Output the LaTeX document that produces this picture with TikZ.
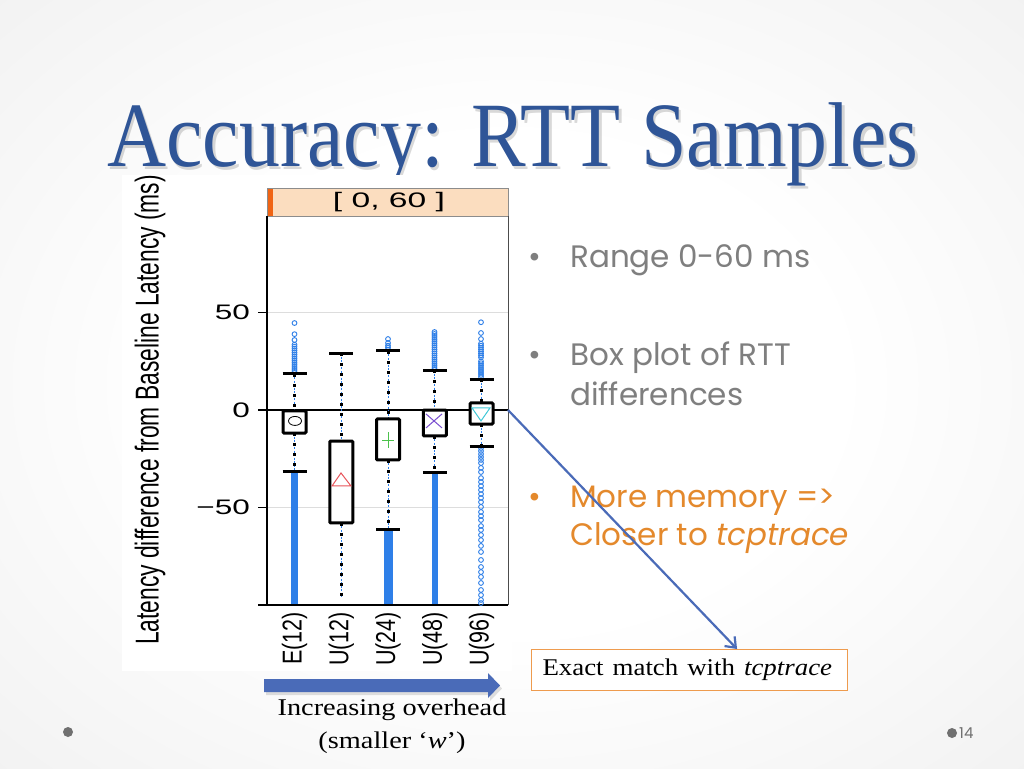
\documentclass[tikz,border=0pt]{standalone}
\usepackage{fontspec}
\usepackage{tikz}
\usetikzlibrary{arrows.meta, positioning, calc}
\setmainfont{Liberation Serif}
\newfontfamily\plotfont{Liberation Sans}
\newfontfamily\bodyfont{Poppins}
\definecolor{TitleBlue}{HTML}{2F5597}
\definecolor{BodyGray}{HTML}{7F7F7F}
\definecolor{MemOrange}{HTML}{E4892C}
\definecolor{PointBlue}{HTML}{2E7FE8}
\definecolor{ArrowBlue}{HTML}{4A6BB8}
\definecolor{HeadPeach}{HTML}{FBDDBF}
\definecolor{HeadOrange}{HTML}{F06414}
\definecolor{BoxOrange}{HTML}{EE9B4E}
\definecolor{DotGray}{HTML}{707070}
\definecolor{GridGray}{HTML}{DDDDDD}
\definecolor{BgMid}{HTML}{EEEEEE}
\definecolor{BgEdge}{HTML}{D4D4D4}
\definecolor{MarkRed}{HTML}{E8545A}
\definecolor{MarkGreen}{HTML}{4CC24C}
\definecolor{MarkPurple}{HTML}{7A4FD0}
\definecolor{MarkCyan}{HTML}{40C8D8}
\newcommand{\xs}[2]{\scalebox{#1}[1]{#2}}
\newcommand{\ys}[2]{\scalebox{1}[#1]{#2}}
\pgfdeclareradialshading{slidebg}{\pgfpoint{0bp}{0bp}}{color(0bp)=(white); color(16bp)=(white); color(42bp)=(BgMid); color(72bp)=(BgEdge)}
\tikzset{
  bxp/.style={draw=black, line width=3pt, fill=white, rounded corners=1pt},
  whisk/.style={PointBlue, line width=0.8pt, dash pattern=on 2pt off 1.5pt},
  whiskdot/.style={black, line width=3pt, dash pattern=on 3pt off 7pt},
  wcap/.style={black, line width=3pt},
  outl/.style={draw=PointBlue, line width=0.9pt},
  ticklab/.style={font=\plotfont\fontsize{21}{21}\selectfont, anchor=east, inner sep=0pt},
  catlab/.style={font=\plotfont\fontsize{21.5}{21.5}\selectfont, rotate=90, anchor=east, inner sep=0pt},
  bultext/.style={font=\bodyfont\fontsize{31}{31}\selectfont, anchor=base west, inner sep=0pt},
}

\begin{document}
\begin{tikzpicture}[x=1pt, y=-1pt, declare function={ms(\v)=410-1.95*(\v);}]
\useasboundingbox (0,0) rectangle (1024,768);
\shade[shading=slidebg] (0,0) rectangle (1024,768);

% title
\node[anchor=base, text=black, opacity=0.15, font=\fontsize{92}{92}\selectfont] at (515.5,169) {\xs{0.89}{Accuracy: RTT Samples}};
\node[anchor=base, text=TitleBlue, font=\fontsize{92}{92}\selectfont] (title) at (513,166) {\xs{0.89}{Accuracy: RTT Samples}};

% plot
\fill[white] (122,175) rectangle (512,671);
\fill[HeadPeach] (267,188) rectangle (508,216);
\fill[HeadOrange] (267,188) rectangle (273,216);
\draw[black!45, line width=0.6pt] (267,188) rectangle (508,216);
\node[font=\plotfont\fontsize{21}{21}\selectfont, inner sep=0pt] (range) at (389,202) {\xs{1.6}{[ 0, 60 ]}};
\foreach \v in {50,-50}
  \draw[GridGray, line width=0.8pt] (267,{ms(\v)}) -- (508,{ms(\v)});
\draw[black!70, line width=0.8pt] (508,216) -- (508,605);
\draw[line width=1.2pt] (267,216) -- (267,605) (258,605) -- (508,605);
\coordinate (zero) at (508,{ms(0)});
\draw[line width=1.5pt] (258,{ms(0)}) -- (zero);
\foreach \v/\t in {50/50,0/0,-50/−50} {
  \draw[line width=1.2pt] (258,{ms(\v)}) -- (267,{ms(\v)});
  \node[ticklab] at (250,{ms(\v)}) {\xs{1.5}{\t}};
}
\node[rotate=90, font=\plotfont\fontsize{22.8}{22.8}\selectfont, inner sep=0pt] (ylab) at (150,410)
  {\ys{1.45}{Latency difference from Baseline Latency (ms)}};

% outliers
\foreach \v in {19.5,20.5,...,33.5,35.9,38.9,44.6} \draw[outl] (294.5,{ms(\v)}) circle (2.4pt);
\foreach \v in {31,32,33,34.4,36.4} \draw[outl] (388,{ms(\v)}) circle (2.4pt);
\foreach \v in {21,22,...,40} \draw[outl] (434.5,{ms(\v)}) circle (2.4pt);
\foreach \v in {17,18,...,25,27,28,...,34,36.4,39.5,45} \draw[outl] (481,{ms(\v)}) circle (2.4pt);
\foreach \v in {-19.5,-21,-22.6,-24.1,-25.6,-27.2,-29.7,-31.8,-34.9,-36.9,-39,-41,-43.1,-45.1,-47.2,-49.7,
    -52.3,-54.4,-56.4,-59.5,-61.5,-64.1,-66.7,-69.7,-72.8,-76.9,-80.5,-83.1,-85.6,-88.7,-92.3,-94.9,-97.4,-99}
  \draw[outl] (481,{ms(\v)}) circle (2.4pt);
\fill[PointBlue] (291,{ms(-31.3)}) rectangle (298,604);
\fill[PointBlue] (384,{ms(-61.5)}) rectangle (393,604);
\fill[PointBlue] (432,{ms(-31.8)}) rectangle (438,604);

% boxes and whiskers
\foreach \i/\lab/\qa/\qb/\wa/\wb [evaluate=\i as \cx using 294.5+46.75*\i] in
  {0/E(12)/-0.5/-11.8/18.5/-31.3, 1/U(12)/-15.9/-57.9/29.2/-96, 2/U(24)/-4.6/-25.6/30.3/-61.5,
   3/U(48)/0/-13.3/20.5/-31.8, 4/U(96)/3.6/-7.2/15.9/-18.5} {
  \draw[whisk] (\cx,{ms(\wa)}) -- (\cx,{ms(\qa)}) (\cx,{ms(\qb)}) -- (\cx,{ms(\wb)});
  \draw[whiskdot] (\cx,{ms(\wa)}) -- (\cx,{ms(\qa)}) (\cx,{ms(\qb)}) -- (\cx,{ms(\wb)});
  \draw[bxp] (\cx-11.5,{ms(\qa)}) rectangle (\cx+11.5,{ms(\qb)});
  \node[catlab] (cat\i) at (\cx,612) {\ys{1.27}{\lab}};
}
\foreach \i/\v [evaluate=\i as \cx using 294.5+46.75*\i] in
  {0/18.5,0/-31.3,1/29.2,2/30.3,2/-61.5,3/20.5,3/-31.8,4/15.9,4/-18.5}
  \draw[wcap] (\cx-12,{ms(\v)}) -- (\cx+12,{ms(\v)});

% mean markers
\draw[black, line width=0.8pt] (295,{ms(-5.6)}) ellipse [x radius=6.5pt, y radius=4.5pt];
\draw[MarkRed, line width=1pt] (341,{ms(-32.3)}) -- ++(10,13) -- ++(-19,0) -- cycle;
\draw[MarkGreen, line width=1pt] (388,{ms(-15.4)}) +(-6,0) -- +(6,0) +(0,-8) -- +(0,8);
\draw[MarkPurple, line width=1pt] (434,{ms(-5.6)}) +(-8,-7) -- +(8,7) +(-8,7) -- +(8,-7);
\draw[MarkCyan, line width=1pt] (481,{ms(-1.5)}) +(-9,-5) -- +(9,-5) -- +(0,8) -- cycle;

% overhead arrow
\fill[black, opacity=0.12] (266,682) -- (490,682) -- (490,676) -- (502,688.5) -- (490,701) -- (490,695) -- (266,695) -- cycle;
\fill[ArrowBlue] (264,679) -- (488,679) -- (488,673) -- (500,685.5) -- (488,698) -- (488,692) -- (264,692) -- cycle;
\node[anchor=base, font=\fontsize{24}{24}\selectfont, inner sep=0pt] (ovh) at (392,715) {\xs{1.18}{Increasing overhead}};
\node[anchor=base, font=\fontsize{24}{24}\selectfont, inner sep=0pt] (smw) at (392,748) {\xs{1.18}{(smaller ‘\textit{w}’)}};

% bullets
\node[bultext, text=BodyGray, anchor=base] at (535,267) {•};
\node[bultext, text=BodyGray] (b1) at (570,267) {Range 0-60 ms};
\node[bultext, text=BodyGray, anchor=base] at (535,365) {•};
\node[bultext, text=BodyGray] (b2) at (570,365) {Box plot of RTT};
\node[bultext, text=BodyGray] (b2b) at (570,405) {differences};
\node[bultext, text=MemOrange, anchor=base] at (535,507) {•};
\node[bultext, text=MemOrange] (b3) at (570,507) {More memory =>};
\node[bultext, text=MemOrange] (b3b) at (570,545) {Closer to \textit{tcptrace}};

% callout
\node[draw=BoxOrange, fill=white, line width=1pt, anchor=north west, text width=294pt, inner xsep=11pt,
      minimum height=41pt, align=left, font=\fontsize{24}{28}\selectfont] (exact) at (531,649)
  {\xs{1.12}{Exact match with \textit{tcptrace}}};
\draw[ArrowBlue, line width=2.2pt, -{Straight Barb[length=9pt, width=14pt]}]
  (zero) -- ($(exact.north west)!0.65!(exact.north east)$);

% footer
\fill[DotGray] (68,732) circle (5pt);
\fill[DotGray] (952,733) circle (5pt);
\node[anchor=base west, text=DotGray, font=\bodyfont\fontsize{15}{15}\selectfont, inner sep=0pt] (pg) at (959,738) {14};
\end{tikzpicture}
\end{document}
